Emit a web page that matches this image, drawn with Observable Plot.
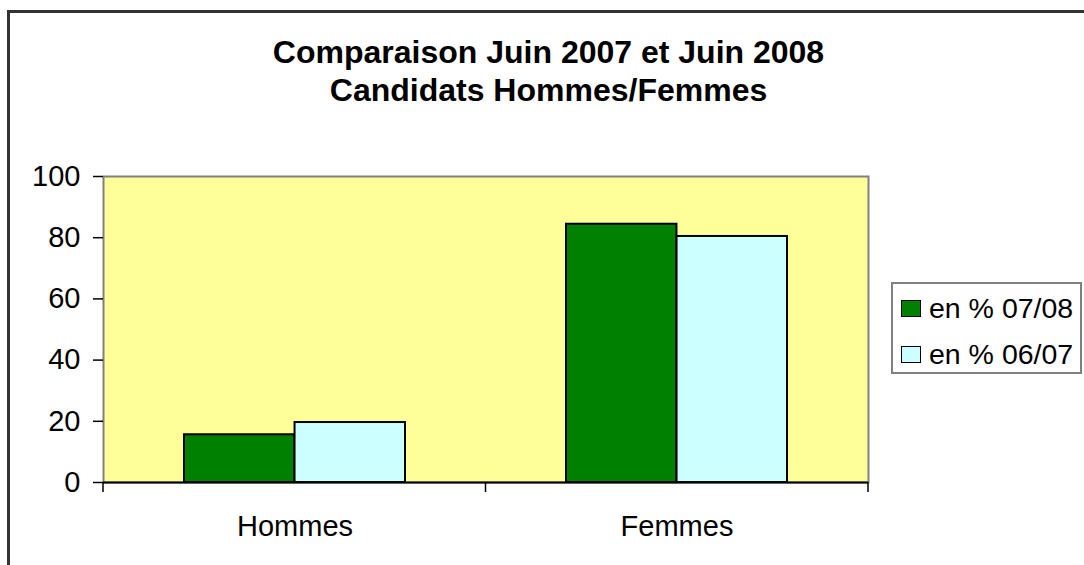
<!DOCTYPE html>
<html>
<head>
<meta charset="utf-8">
<script src="https://cdn.jsdelivr.net/npm/d3@7"></script>
<script src="https://cdn.jsdelivr.net/npm/@observablehq/plot@0.6"></script>
<style>
  html, body { margin: 0; padding: 0; background: #fff; overflow: hidden; }
  body { width: 1084px; height: 565px; position: relative; font-family: "Liberation Sans", Arial, sans-serif; }
  #border { position: absolute; left: 7px; top: 10px; width: 1090px; height: 600px; border: 3px solid #333; box-sizing: border-box; }
  #title { position: absolute; left: 0; top: 33px; width: 1097px; text-align: center; font-weight: bold; font-size: 32px; line-height: 38px; color: #000; }
  #chart { position: absolute; left: 0; top: 150px; }
  #legend { position: absolute; left: 891px; top: 282px; width: 191px; height: 92px; border: 2px solid #808080; box-sizing: border-box; background: #fff; padding-top: 1px; }
  .row { display: flex; align-items: center; height: 46px; padding-left: 8px; font-size: 28.5px; color: #000; }
  .sw { width: 18px; height: 15px; border: 1.5px solid #000; margin-right: 8px; }
</style>
</head>
<body>
<div id="border"></div>
<div id="title">Comparaison Juin 2007 et Juin 2008<br>Candidats Hommes/Femmes</div>
<div id="chart"></div>
<div id="legend"></div>
<script>
const categories = ["Hommes", "Femmes"];
const seriesNames = ["en % 07/08", "en % 06/07"];
const values0708 = [15.6, 84.4];
const values0607 = [19.6, 80.4];
const seriesColors = ["#008000", "#CCFFFF"];
const yTicks = [0, 20, 40, 60, 80, 100];

const data0708 = categories.map((c, i) => ({cat: c, series: seriesNames[0], value: values0708[i]}));
const data0607 = categories.map((c, i) => ({cat: c, series: seriesNames[1], value: values0607[i]}));

const W = 880, H = 415, ml = 103, mr = 12, mt = 26, mb = 83;
const paddingInner = 0.422, paddingOuter = 0.211;
const bandwidth = (W - ml - mr) * (1 - paddingInner) / (categories.length - paddingInner + 2 * paddingOuter);
const half = bandwidth / 2;

const chart = Plot.plot({
  width: W, height: H,
  marginLeft: ml, marginRight: mr, marginTop: mt, marginBottom: mb,
  style: {fontFamily: "Liberation Sans, Arial, sans-serif", fontSize: "29px", color: "#000", background: "transparent"},
  x: {domain: categories, paddingInner, paddingOuter},
  y: {domain: [0, 100]},
  marks: [
    Plot.frame({fill: "#FFFF99", stroke: "#808080", strokeWidth: 2}),
    Plot.barY(data0708, {x: "cat", y: "value", fill: seriesColors[0], stroke: "#000", strokeWidth: 2, insetRight: half}),
    Plot.barY(data0607, {x: "cat", y: "value", fill: seriesColors[1], stroke: "#000", strokeWidth: 2, insetLeft: half}),
    Plot.ruleY([0], {stroke: "#000", strokeWidth: 2}),
    Plot.axisY({ticks: yTicks, tickSize: 10, tickPadding: 13, label: null, line: true, stroke: "#000", strokeWidth: 1.5, fontSize: 29}),
    Plot.axisX({tickSize: 0, tickPadding: 33, label: null, fontSize: 29})
  ]
});
document.getElementById("chart").appendChild(chart);

// category boundary tick marks below the baseline (Excel style)
const svg = d3.select(chart);
const y0 = H - mb;
[ml, (ml + W - mr) / 2, W - mr].forEach(x => {
  svg.append("line").attr("x1", x).attr("x2", x).attr("y1", y0).attr("y2", y0 + 10)
    .attr("stroke", "#000").attr("stroke-width", 1.5);
});

// legend
const legend = d3.select("#legend");
seriesNames.forEach((name, i) => {
  const row = legend.append("div").attr("class", "row");
  row.append("div").attr("class", "sw").style("background", seriesColors[i]);
  row.append("span").text(name);
});
</script>
</body>
</html>
